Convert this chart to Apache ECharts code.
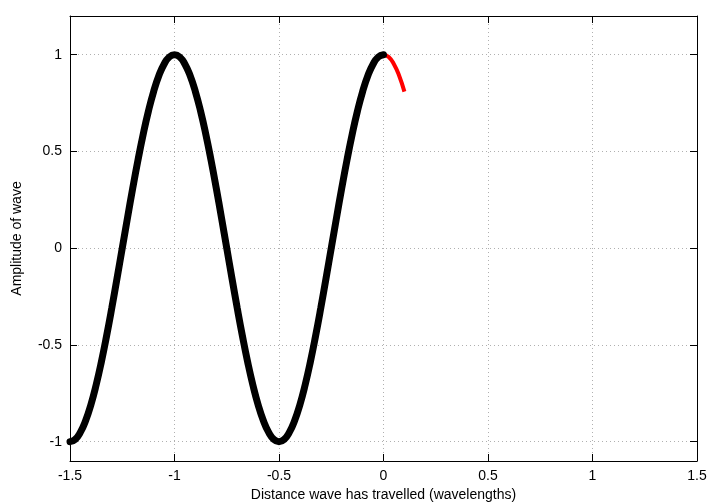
<!DOCTYPE html>
<html><head><meta charset="utf-8">
<script src="https://cdn.jsdelivr.net/npm/echarts@6/dist/echarts.min.js"></script>
<style>html,body{margin:0;padding:0;background:#fff}#c{width:720px;height:504px}</style>
</head><body><div id="c"></div>
<script>
// x positions (wavelengths)
const xValues = [-1.5,-1.475,-1.45,-1.425,-1.4,-1.375,-1.35,-1.325,-1.3,-1.275,-1.25,-1.225,-1.2,-1.175,-1.15,-1.125,-1.1,-1.075,-1.05,-1.025,
  -1,-0.975,-0.95,-0.925,-0.9,-0.875,-0.85,-0.825,-0.8,-0.775,-0.75,-0.725,-0.7,-0.675,-0.65,-0.625,-0.6,-0.575,-0.55,-0.525,
  -0.5,-0.475,-0.45,-0.425,-0.4,-0.375,-0.35,-0.325,-0.3,-0.275,-0.25,-0.225,-0.2,-0.175,-0.15,-0.125,-0.1,-0.075,-0.05,-0.025,
  0,0.025,0.05,0.075,0.1];
// black wave (up to x = 0)
const blackWave = [-1,-0.988,-0.951,-0.891,-0.809,-0.707,-0.588,-0.454,-0.309,-0.156,0,0.156,0.309,0.454,0.588,0.707,0.809,0.891,0.951,0.988,
  1,0.988,0.951,0.891,0.809,0.707,0.588,0.454,0.309,0.156,0,-0.156,-0.309,-0.454,-0.588,-0.707,-0.809,-0.891,-0.951,-0.988,
  -1,-0.988,-0.951,-0.891,-0.809,-0.707,-0.588,-0.454,-0.309,-0.156,0,0.156,0.309,0.454,0.588,0.707,0.809,0.891,0.951,0.988,
  1];
// red wave (up to x = 0.1)
const redWave = [-1,-0.988,-0.951,-0.891,-0.809,-0.707,-0.588,-0.454,-0.309,-0.156,0,0.156,0.309,0.454,0.588,0.707,0.809,0.891,0.951,0.988,
  1,0.988,0.951,0.891,0.809,0.707,0.588,0.454,0.309,0.156,0,-0.156,-0.309,-0.454,-0.588,-0.707,-0.809,-0.891,-0.951,-0.988,
  -1,-0.988,-0.951,-0.891,-0.809,-0.707,-0.588,-0.454,-0.309,-0.156,0,0.156,0.309,0.454,0.588,0.707,0.809,0.891,0.951,0.988,
  1,0.988,0.951,0.891,0.809];
const xTicks = [-1.5,-1,-0.5,0,0.5,1,1.5];
const yTicks = [-1,-0.5,0,0.5,1];
const xLabel = 'Distance wave has travelled (wavelengths)';
const yLabel = 'Amplitude of wave';

const font = 'Liberation Sans';
const chart = echarts.init(document.getElementById('c'));
const gridLine = {show:true, lineStyle:{color:'#b0b0b0', type:[1,3], width:1}};
const axisLine = {show:true, onZero:false, lineStyle:{color:'#000', width:1}};
const tickIn = {show:true, inside:true, length:7, lineStyle:{color:'#000', width:1}};
chart.setOption({
  animation:false,
  backgroundColor:'#fff',
  grid:{left:70, right:23, top:16, bottom:43, outerBoundsMode:'none', containLabel:false},
  xAxis:[{
    type:'value', min:-1.5, max:1.5, interval:0.5,
    axisLine, axisTick:tickIn, splitLine:gridLine,
    axisLabel:{color:'#000', fontFamily:font, fontSize:14, margin:8, customValues:xTicks},
    name:xLabel, nameLocation:'middle', nameGap:27,
    nameTextStyle:{color:'#000', fontFamily:font, fontSize:14}
  },{
    type:'value', position:'top', min:-1.5, max:1.5, interval:0.5,
    axisLine, axisTick:tickIn, axisLabel:{show:false}, splitLine:{show:false}
  }],
  yAxis:[{
    type:'value', min:-1.1, max:1.2,
    axisLine, axisTick:Object.assign({customValues:yTicks}, tickIn),
    splitLine:gridLine,
    axisLabel:{color:'#000', fontFamily:font, fontSize:14, margin:8, customValues:yTicks},
    name:yLabel, nameLocation:'middle', nameGap:46,
    nameTextStyle:{color:'#000', fontFamily:font, fontSize:14}
  },{
    type:'value', position:'right', min:-1.1, max:1.2,
    axisLine, axisTick:Object.assign({customValues:yTicks}, tickIn),
    axisLabel:{show:false}, splitLine:{show:false}
  }],
  series:[{
    type:'line', smooth:true, showSymbol:false, symbol:'none',
    data:xValues.slice(0, redWave.length).map((x,i)=>[x, redWave[i]]),
    lineStyle:{color:'#ff0000', width:4}, z:2
  },{
    type:'line', smooth:true, showSymbol:false, symbol:'none',
    data:xValues.slice(0, blackWave.length).map((x,i)=>[x, blackWave[i]]),
    lineStyle:{color:'#000000', width:7, cap:'round'}, z:3
  }]
});
</script></body></html>
